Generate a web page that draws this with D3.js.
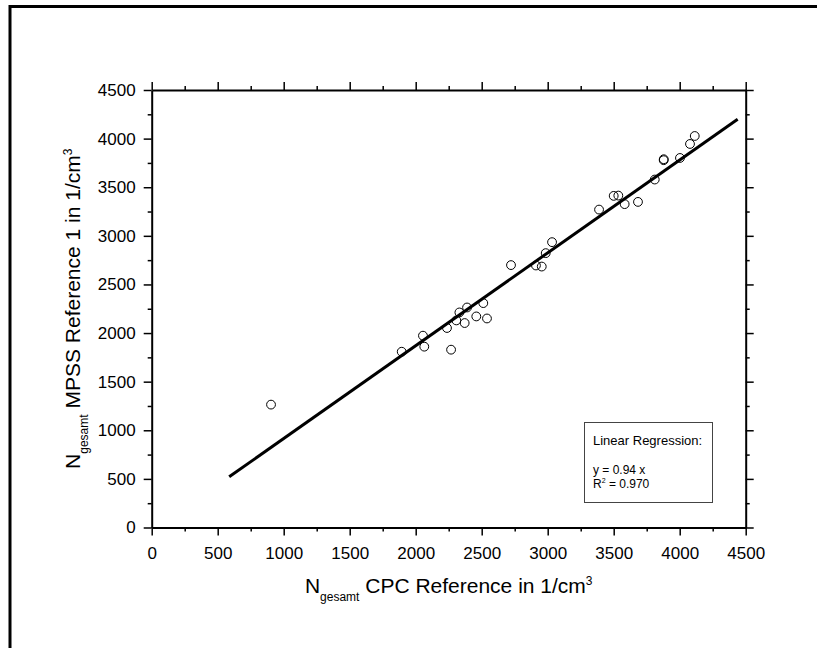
<!DOCTYPE html>
<html>
<head>
<meta charset="utf-8">
<script src="https://cdn.jsdelivr.net/npm/d3@7"></script>
<style>
  html, body { margin: 0; padding: 0; background: #fff; overflow: hidden; }
  svg { display: block; font-family: "Liberation Sans", Arial, sans-serif; }
</style>
</head>
<body>
<svg id="chart" width="817" height="648"></svg>
<script>
// ---- data ----
const cpcValues  = [904, 1894, 2055, 2065, 2237, 2268, 2308, 2331, 2371, 2389, 2459, 2512, 2540,
                    2722, 2911, 2955, 2985, 3033, 3389, 3500, 3535, 3583, 3684, 3811, 3879, 3879,
                    4002, 4078, 4114];
const mpssValues = [1264, 1808, 1973, 1860, 2052, 1829, 2130, 2212, 2103, 2263, 2171, 2308, 2150,
                    2699, 2695, 2684, 2822, 2935, 3270, 3411, 3414, 3326, 3349, 3579, 3788, 3778,
                    3801, 3945, 4027];
const fitX = [587, 4439];
const fitY = [521, 4199];
const majorTicks = [0, 500, 1000, 1500, 2000, 2500, 3000, 3500, 4000, 4500];
const minorTicks = [250, 750, 1250, 1750, 2250, 2750, 3250, 3750, 4250];
const legendLines = ["Linear Regression:", "y = 0.94 x", "R² = 0.970"];

// ---- layout ----
const svg = d3.select("#chart");
const L = 151.7, R = 745.7, T = 90, B = 527.5;
const x = d3.scaleLinear().domain([0, 4500]).range([L, R]);
const y = d3.scaleLinear().domain([0, 4500]).range([B, T]);

// outer frame (only top and left edges are visible in the window)
svg.append("path").attr("d", "M10,660 L10,6.5 L830,6.5")
  .attr("fill", "none").attr("stroke", "#000").attr("stroke-width", 3);

function styleAxis(g) {
  g.selectAll(".domain").attr("stroke", "#000").attr("stroke-width", 2);
  g.selectAll(".tick line").attr("stroke", "#000").attr("stroke-width", 1.5);
  g.selectAll(".tick text").attr("fill", "#000").attr("font-size", 17)
    .attr("font-family", "'Liberation Sans', Arial, sans-serif");
}
function minor(g) {
  g.select(".domain").remove();
  g.selectAll("line").attr("stroke", "#000").attr("stroke-width", 1.5);
}

// bottom
const gB = svg.append("g").attr("transform", `translate(0,${B})`);
gB.call(d3.axisBottom(x).tickValues(majorTicks).tickSize(8).tickSizeOuter(0).tickPadding(11).tickFormat(d3.format("d")));
styleAxis(gB);
svg.append("g").attr("transform", `translate(0,${B})`)
  .call(d3.axisBottom(x).tickValues(minorTicks).tickSize(4).tickFormat("")).call(minor);
// top
const gT = svg.append("g").attr("transform", `translate(0,${T})`);
gT.call(d3.axisTop(x).tickValues(majorTicks).tickSize(8).tickSizeOuter(0).tickFormat(""));
styleAxis(gT);
svg.append("g").attr("transform", `translate(0,${T})`)
  .call(d3.axisTop(x).tickValues(minorTicks).tickSize(4).tickFormat("")).call(minor);
// left
const gL = svg.append("g").attr("transform", `translate(${L},0)`);
gL.call(d3.axisLeft(y).tickValues(majorTicks).tickSize(8).tickSizeOuter(0).tickPadding(8).tickFormat(d3.format("d")));
styleAxis(gL);
svg.append("g").attr("transform", `translate(${L},0)`)
  .call(d3.axisLeft(y).tickValues(minorTicks).tickSize(4).tickFormat("")).call(minor);
// right
const gR = svg.append("g").attr("transform", `translate(${R},0)`);
gR.call(d3.axisRight(y).tickValues(majorTicks).tickSize(8).tickSizeOuter(0).tickFormat(""));
styleAxis(gR);
svg.append("g").attr("transform", `translate(${R},0)`)
  .call(d3.axisRight(y).tickValues(minorTicks).tickSize(4).tickFormat("")).call(minor);

// regression line
const fitPts = fitX.map((v, i) => [v, fitY[i]]);
svg.append("path").datum(fitPts)
  .attr("d", d3.line().x(d => x(d[0])).y(d => y(d[1])))
  .attr("fill", "none").attr("stroke", "#000").attr("stroke-width", 3);

// points
const pts = cpcValues.map((v, i) => [v, mpssValues[i]]);
svg.append("g").selectAll("circle").data(pts).join("circle")
  .attr("cx", d => x(d[0])).attr("cy", d => y(d[1])).attr("r", 4.4)
  .attr("fill", "none").attr("stroke", "#000").attr("stroke-width", 1);

// axis titles
function title(sel, mainText) {
  sel.append("tspan").text("N");
  sel.append("tspan").attr("font-size", 12).attr("dy", 8).text("gesamt");
  sel.append("tspan").attr("dy", -8).text(mainText);
  sel.append("tspan").attr("font-size", 12).attr("dy", -8).text("3");
}
const xt = svg.append("text").attr("x", (L + R) / 2).attr("y", 593)
  .attr("text-anchor", "middle").attr("font-size", 21).attr("fill", "#000");
title(xt, " CPC Reference in 1/cm");
const yt = svg.append("text").attr("transform", `translate(80,${(T + B) / 2}) rotate(-90)`)
  .attr("text-anchor", "middle").attr("font-size", 21).attr("fill", "#000");
title(yt, " MPSS Reference 1 in 1/cm");

// legend box
const lg = svg.append("g");
lg.append("rect").attr("x", 584.5).attr("y", 422.5).attr("width", 128).attr("height", 80)
  .attr("fill", "#fff").attr("stroke", "#444").attr("stroke-width", 1);
lg.append("text").attr("x", 593).attr("y", 445).attr("font-size", 13).text(legendLines[0]);
lg.append("text").attr("x", 593).attr("y", 473.5).attr("font-size", 12).text(legendLines[1]);
const r2 = lg.append("text").attr("x", 593).attr("y", 488).attr("font-size", 12);
r2.append("tspan").text("R");
r2.append("tspan").attr("font-size", 7).attr("dy", -5.5).text("2");
r2.append("tspan").attr("dy", 5.5).text(legendLines[2].slice(2));
</script>
</body>
</html>
